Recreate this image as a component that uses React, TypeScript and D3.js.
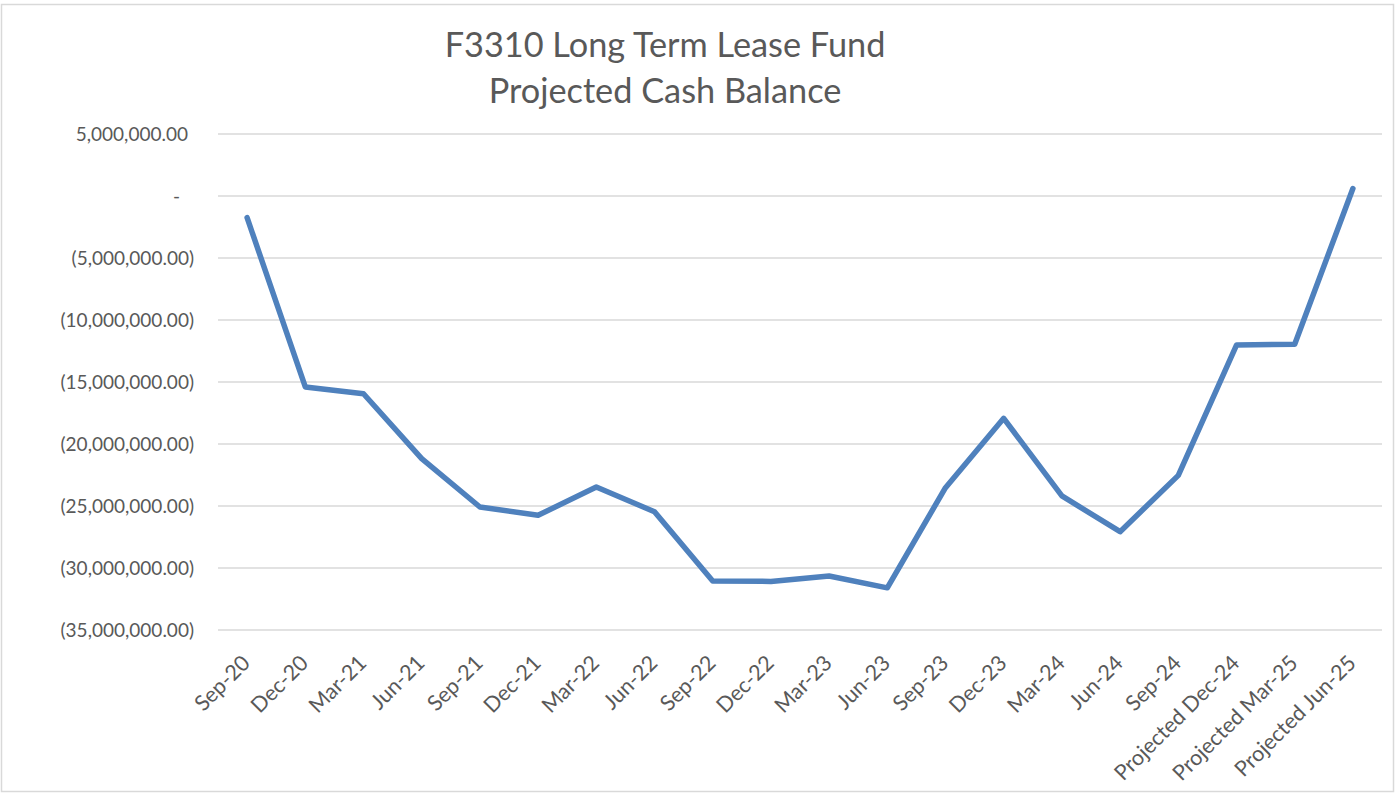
import * as d3 from 'd3';
import { useEffect, useRef } from 'react';

// quarter labels along the x axis
const periods = [
    'Sep-20', 'Dec-20', 'Mar-21', 'Jun-21', 'Sep-21', 'Dec-21', 'Mar-22', 'Jun-22',
    'Sep-22', 'Dec-22', 'Mar-23', 'Jun-23', 'Sep-23', 'Dec-23', 'Mar-24', 'Jun-24',
    'Sep-24', 'Projected Dec-24', 'Projected Mar-25', 'Projected Jun-25',
];

// cash balance at each period
const cashBalance = [
    -1750000, -15400000, -15950000, -21180000, -25080000, -25750000, -23470000, -25460000,
    -31050000, -31080000, -30650000, -31600000, -23520000, -17930000, -24190000, -27070000,
    -22530000, -12020000, -11960000, 600000,
];

const yTicks = [5000000, 0, -5000000, -10000000, -15000000, -20000000, -25000000, -30000000, -35000000];

const titleLines = ['F3310 Long Term Lease Fund', 'Projected Cash Balance'];

const fmt = (v: number) => {
    if (v === 0) return '-';
    const s = d3.format(',.2f')(Math.abs(v));
    return v < 0 ? `(${s})` : s;
};

function App() {
    return <CashChart />;
}

const CashChart = () => {
    const svgRef = useRef<SVGSVGElement>(null);

    useEffect(() => {
        document.body.style.margin = '0';
        const w = 1399;
        const h = 793;
        const left = 218;
        const right = 1382;
        const top = 134;
        const bottom = 630;
        const font = 'Lato, "Open Sans", sans-serif';
        const textColor = '#595959';

        const svg = d3.select(svgRef.current).attr('width', w).attr('height', h);
        svg.selectAll('*').remove();

        svg.append('rect')
            .attr('x', 1.5)
            .attr('y', 4.5)
            .attr('width', 1392)
            .attr('height', 787)
            .attr('fill', 'white')
            .attr('stroke', '#D9D9D9')
            .attr('stroke-width', 1.5);

        const x = d3.scalePoint<string>().domain(periods).range([left, right]).padding(0.5);
        const y = d3.scaleLinear().domain([-35000000, 5000000]).range([bottom, top]);

        // gridlines
        svg.append('g')
            .selectAll('line')
            .data(yTicks)
            .enter()
            .append('line')
            .attr('x1', left)
            .attr('x2', right)
            .attr('y1', (d) => y(d))
            .attr('y2', (d) => y(d))
            .attr('stroke', '#D9D9D9')
            .attr('stroke-width', 1.5);

        // y labels
        svg.append('g')
            .selectAll('text')
            .data(yTicks)
            .enter()
            .append('text')
            .attr('x', (d) => (d < 0 ? 194 : d > 0 ? 188 : 180))
            .attr('y', (d) => y(d))
            .attr('dy', '0.35em')
            .attr('text-anchor', 'end')
            .attr('font-family', font)
            .attr('font-size', 19)
            .attr('fill', textColor)
            .text((d) => fmt(d));

        // x labels
        svg.append('g')
            .selectAll('text')
            .data(periods)
            .enter()
            .append('text')
            .attr('transform', (d) => `translate(${(x(d) as number) - 1}, 659) rotate(-45)`)
            .attr('dy', '0.35em')
            .attr('text-anchor', 'end')
            .attr('font-family', font)
            .attr('font-size', 21.5)
            .attr('fill', textColor)
            .text((d) => d);

        // series line
        const line = d3
            .line<number>()
            .x((_, i) => x(periods[i]) as number)
            .y((d) => y(d));

        svg.append('path')
            .datum(cashBalance)
            .attr('d', line)
            .attr('fill', 'none')
            .attr('stroke', '#4F81BD')
            .attr('stroke-width', 5.5)
            .attr('stroke-linejoin', 'round')
            .attr('stroke-linecap', 'round');

        // title
        svg.append('text')
            .attr('x', 665)
            .attr('font-family', font)
            .attr('font-size', 34.3)
            .attr('fill', textColor)
            .attr('text-anchor', 'middle')
            .selectAll('tspan')
            .data(titleLines)
            .enter()
            .append('tspan')
            .attr('x', 665)
            .attr('y', (_, i) => 57 + i * 46)
            .text((d) => d);
    }, []);

    return <svg ref={svgRef}></svg>;
};

export default App;
